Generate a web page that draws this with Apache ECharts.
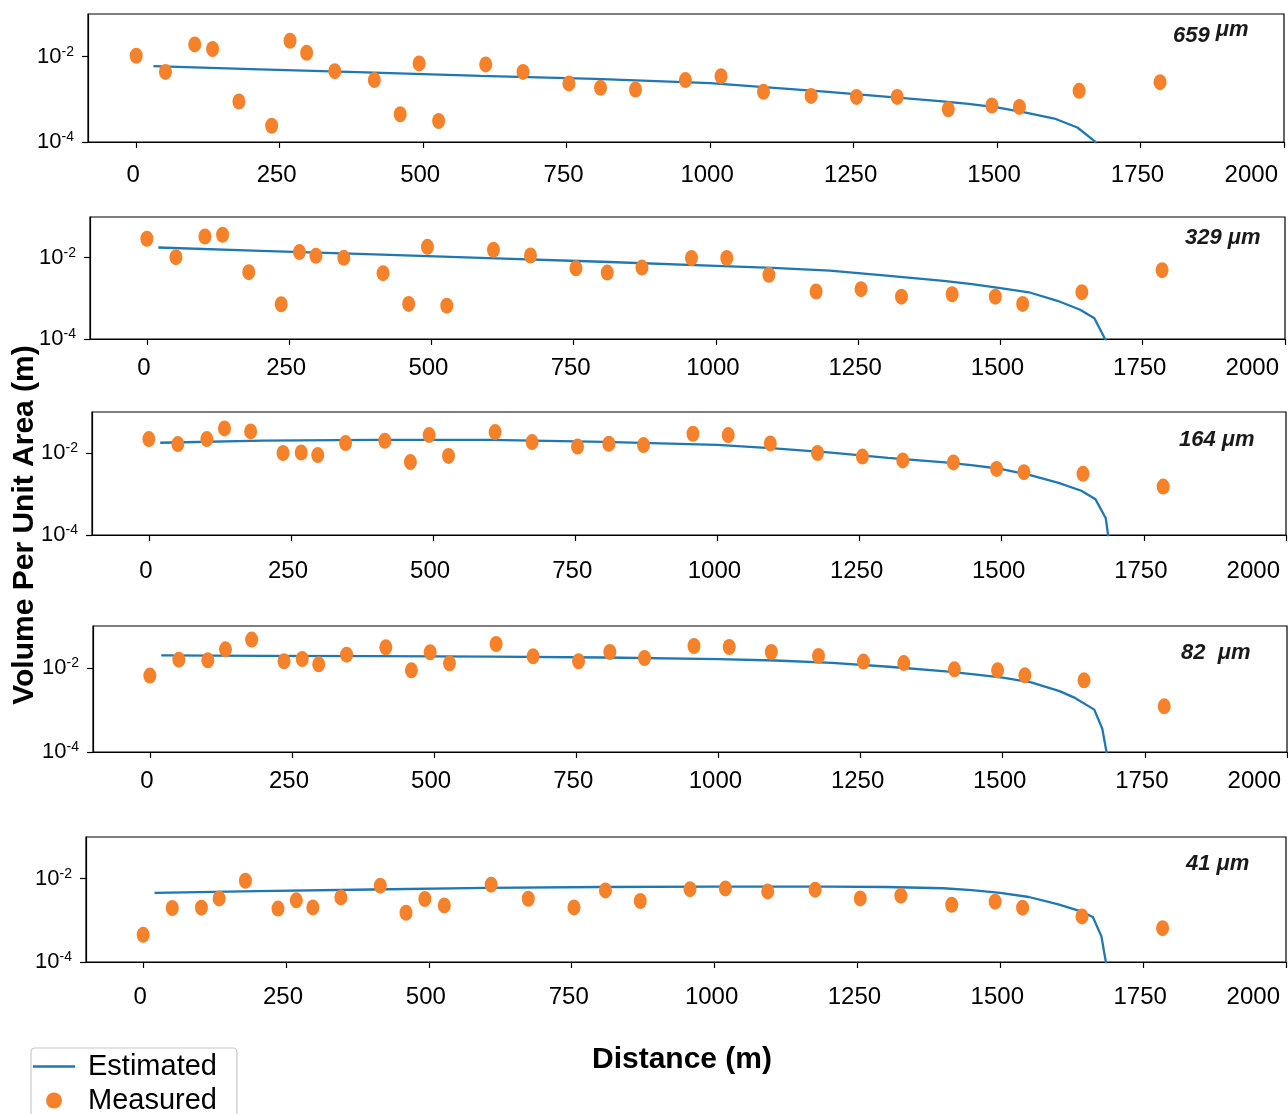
<!DOCTYPE html>
<html>
<head>
<meta charset="utf-8">
<script src="https://cdn.jsdelivr.net/npm/echarts@6/dist/echarts.min.js"></script>
<style>html,body{margin:0;padding:0;background:#fff}#c{width:1288px;height:1114px}</style>
</head>
<body>
<div id="c"></div>
<script>
// ---- data ----
const distances = [0, 51, 102, 133, 179, 236, 268, 297, 346, 415, 460, 493, 527, 609, 674, 754, 809, 870, 957, 1019, 1093, 1176, 1255, 1326, 1415, 1491, 1539, 1643, 1784];
const xTicks = [0, 250, 500, 750, 1000, 1250, 1500, 1750, 2000];
const yTicks = [1e-4, 1e-2];
const panelLabels = ['659', '329', '164', '82', '41'];

const measured659 = [0.0105, 0.0044, 0.0194, 0.0151, 0.00089, 0.00024, 0.0236, 0.0123, 0.00458, 0.00282, 0.000447, 0.00695, 0.000311, 0.00658, 0.0044, 0.00236, 0.00186, 0.0017, 0.00282, 0.00349, 0.0015, 0.0012, 0.00114, 0.00114, 0.000586, 0.000716, 0.000664, 0.00158, 0.00252];
const measured329 = [0.0292, 0.0103, 0.0332, 0.0366, 0.0044, 0.000716, 0.0137, 0.0111, 0.0099, 0.00416, 0.00073, 0.0185, 0.00066, 0.0156, 0.0113, 0.0055, 0.0043, 0.0057, 0.0098, 0.0098, 0.00378, 0.00147, 0.00168, 0.0011, 0.00126, 0.0011, 0.00073, 0.00142, 0.00493];
const measured164 = [0.0219, 0.0165, 0.0219, 0.0397, 0.0336, 0.01, 0.0103, 0.0089, 0.0175, 0.0199, 0.006, 0.0274, 0.0085, 0.0324, 0.0185, 0.0144, 0.0168, 0.0156, 0.0295, 0.0274, 0.0171, 0.01, 0.0082, 0.0066, 0.0059, 0.0041, 0.0034, 0.0031, 0.00152];
const measured82 = [0.0066, 0.0158, 0.0153, 0.0279, 0.0474, 0.0145, 0.0164, 0.0122, 0.0208, 0.0311, 0.0088, 0.0237, 0.0129, 0.0373, 0.019, 0.0145, 0.024, 0.0173, 0.0334, 0.0316, 0.024, 0.0193, 0.0142, 0.0131, 0.0093, 0.0088, 0.0067, 0.0051, 0.00122];
const measured41 = [0.00045, 0.00198, 0.00201, 0.00336, 0.0089, 0.00191, 0.00302, 0.00204, 0.00355, 0.00678, 0.00152, 0.00325, 0.00228, 0.00716, 0.0033, 0.00204, 0.00522, 0.00291, 0.0056, 0.00583, 0.00494, 0.00543, 0.00336, 0.0039, 0.00237, 0.0028, 0.00201, 0.00124, 0.00065];

const estX659 = [30, 200, 400, 600, 800, 1000, 1100, 1200, 1300, 1400, 1450, 1500, 1550, 1600, 1640, 1670, 1690];
const estY659 = [0.0060, 0.00513, 0.00427, 0.00355, 0.00302, 0.0024, 0.00191, 0.00151, 0.00117, 0.00091, 0.00078, 0.000646, 0.00049, 0.000355, 0.000219, 0.000105, 0.0000316];
const estX329 = [20, 200, 400, 600, 800, 1000, 1100, 1200, 1300, 1400, 1450, 1500, 1550, 1600, 1640, 1665, 1700];
const estY329 = [0.0178, 0.0147, 0.0120, 0.00977, 0.00794, 0.00631, 0.00562, 0.00479, 0.00363, 0.00269, 0.00224, 0.00178, 0.00141, 0.00087, 0.000525, 0.000324, 0.0000363];
const estX164 = [20, 200, 400, 600, 800, 1000, 1100, 1200, 1300, 1400, 1450, 1500, 1550, 1600, 1640, 1665, 1683, 1700];
const estY164 = [0.0178, 0.02, 0.0209, 0.0209, 0.0186, 0.0158, 0.0129, 0.0102, 0.00759, 0.00589, 0.00497, 0.00407, 0.00288, 0.00186, 0.0012, 0.000741, 0.000257, 0.000005];
const estX82 = [20, 200, 400, 600, 800, 1000, 1100, 1200, 1300, 1400, 1450, 1500, 1550, 1600, 1625, 1661, 1675, 1682, 1695];
const estY82 = [0.02, 0.0195, 0.0191, 0.0186, 0.0178, 0.0162, 0.0151, 0.0132, 0.0107, 0.00832, 0.00708, 0.00589, 0.00457, 0.00282, 0.002, 0.00102, 0.000363, 0.00011, 0.0000126];
const estX41 = [20, 200, 400, 600, 800, 1000, 1200, 1300, 1400, 1450, 1500, 1550, 1600, 1640, 1662, 1677, 1684, 1695];
const estY41 = [0.00457, 0.00501, 0.0055, 0.00603, 0.00631, 0.00646, 0.00646, 0.00631, 0.00589, 0.0053, 0.00457, 0.00363, 0.00245, 0.00166, 0.0012, 0.000412, 0.000115, 0.0000158];

// ---- layout ----
const FONT = 'Liberation Sans, Arial, sans-serif';
const measuredAll = [measured659, measured329, measured164, measured82, measured41];
const estXAll = [estX659, estX329, estX164, estX82, estX41];
const estYAll = [estY659, estY329, estY164, estY82, estY41];
const layout = [
  {left: 88, top: 14, width: 1196, height: 128, xmin: -84, lm: 21, lab: {x: 1173, y: 33}},
  {left: 90, top: 217, width: 1195, height: 122, xmin: -100, lm: 17, lab: {x: 1185, y: 241}},
  {left: 92, top: 412, width: 1194, height: 123, xmin: -100, lm: 24, lab: {x: 1179, y: 443}},
  {left: 93, top: 626, width: 1194, height: 126, xmin: -100, lm: 17, lab: {x: 1181, y: 656}},
  {left: 86, top: 837, width: 1200, height: 125, xmin: -100, lm: 23, lab: {x: 1186, y: 867}}
];
const unitSpace = ['\u00a0', '\u00a0', '\u00a0', '\u00a0\u00a0', '\u00a0'];

const ellipse = 'path://M0,1 A1,1 0 1,1 2,1 A1,1 0 1,1 0,1 Z';
const grids = [], xAxes = [], yAxes = [], series = [], graphics = [];

layout.forEach((L, i) => {
  grids.push({left: L.left, top: L.top, width: L.width, height: L.height, show: true,
    borderColor: '#000', borderWidth: 1.2, containLabel: false});
  xAxes.push({type: 'value', gridIndex: i, min: L.xmin, max: 2000,
    axisLine: {show: true, onZero: false, lineStyle: {color: '#000', width: 1.2}},
    axisTick: {show: true, customValues: xTicks, length: 6, lineStyle: {color: '#000', width: 1.2}},
    axisLabel: {customValues: xTicks, margin: L.lm, fontSize: 24, color: '#000', fontFamily: FONT,
      formatter: v => String(v), padding: [0, 6, 0, 0], alignMaxLabel: 'right'},
    splitLine: {show: false}});
  yAxes.push({type: 'log', logBase: 10, gridIndex: i, min: 1e-4, max: 1e-1,
    axisLine: {show: true, onZero: false, lineStyle: {color: '#000', width: 1.2}},
    axisTick: {show: true, customValues: yTicks, length: 6, lineStyle: {color: '#000', width: 1.2}},
    axisLabel: {customValues: yTicks, margin: 14, color: '#000', fontFamily: FONT,
      formatter: v => '{b|10}{s|-' + Math.round(-Math.log10(v)) + '}',
      rich: {b: {fontSize: 22, fontFamily: FONT, color: '#000', lineHeight: 24},
             s: {fontSize: 14, fontFamily: FONT, color: '#000', verticalAlign: 'top', lineHeight: 24}}},
    splitLine: {show: false}, minorTick: {show: false}});
  series.push({name: 'Estimated', type: 'line', xAxisIndex: i, yAxisIndex: i, z: 2,
    data: estXAll[i].map((x, k) => [x, estYAll[i][k]]), symbol: 'none', showSymbol: false, clip: true,
    lineStyle: {color: '#1f77b4', width: 2.3}, itemStyle: {color: '#1f77b4'}});
  series.push({name: 'Measured', type: 'scatter', xAxisIndex: i, yAxisIndex: i, z: 3,
    data: distances.map((x, k) => [x, measuredAll[i][k]]), symbol: ellipse, symbolSize: [13, 16],
    itemStyle: {color: '#f5822a', opacity: 1}});
  const raised = i === 0;
  graphics.push({type: 'text', left: L.lab.x, top: L.lab.y - 14, z: 10,
    style: {text: '{n|' + panelLabels[i] + '}{u|' + unitSpace[i] + 'μm}',
      rich: {n: {fontSize: 22, fontWeight: 'bold', fontStyle: 'italic', fontFamily: FONT, fill: '#1a1a1a', lineHeight: 28, verticalAlign: raised ? 'bottom' : 'middle'},
             u: {fontSize: 22, fontWeight: 'bold', fontStyle: 'italic', fontFamily: FONT, fill: '#1a1a1a', lineHeight: 28, verticalAlign: raised ? 'top' : 'middle'}}}});
});

graphics.push({type: 'text', x: 25, y: 525, rotation: Math.PI / 2, z: 10,
  style: {text: 'Volume Per Unit Area (m)', fontSize: 30, fontWeight: 'bold', fontFamily: FONT,
    fill: '#000', align: 'center', verticalAlign: 'middle'}});
graphics.push({type: 'text', x: 682, y: 1060, z: 10,
  style: {text: 'Distance (m)', fontSize: 30, fontWeight: 'bold', fontFamily: FONT,
    fill: '#000', align: 'center', verticalAlign: 'middle'}});

const chart = echarts.init(document.getElementById('c'), null, {renderer: 'canvas'});
chart.setOption({
  animation: false,
  backgroundColor: '#fff',
  grid: grids, xAxis: xAxes, yAxis: yAxes, series: series, graphic: graphics,
  legend: {data: [{name: 'Estimated', icon: 'path://M0,0 H40 V2.4 H0 Z'}, {name: 'Measured'}],
    orient: 'vertical', left: 31, top: 1048, height: 200,
    itemWidth: 42, itemHeight: 16, itemGap: 1, padding: [2, 20, 12, 2],
    backgroundColor: '#fff', borderColor: '#c8c8c8', borderWidth: 1.2, borderRadius: 4,
    textStyle: {fontSize: 29, fontFamily: FONT, color: '#000', lineHeight: 33, padding: [0, 0, 0, 8]}}
});
</script>
</body>
</html>
